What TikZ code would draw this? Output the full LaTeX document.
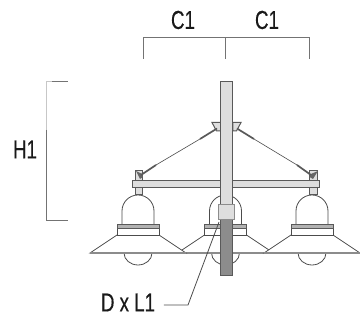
\documentclass[tikz,border=0pt]{standalone}
\usepackage{fontspec}
\setmainfont[FakeStretch=0.72,FakeBold=0.4]{Liberation Sans}
\tikzset{
 px/.style={x=1pt,y=-1pt},
 dim/.style={draw=black!55,line width=0.8pt},
 dimlight/.style={draw=black!22,line width=0.8pt},
 lbl/.style={font=\fontsize{26}{26}\selectfont,text=black!90,inner sep=0pt},
 part/.style={draw=black!65,fill=black!13,line width=1pt},
 thinline/.style={draw=black!70,line width=0.8pt},
 lampfill/.style={draw=black!70,fill=white,line width=0.8pt},
 band/.style={draw=black!65,fill=black!30,line width=0.7pt},
 rim/.style={draw=black!45,line width=1.6pt},
 cable/.style={draw=black!70,line width=0.6pt},
 cablethick/.style={draw=black!65,line width=1.7pt},
}
\newcommand{\lamp}[1]{%
  \begin{scope}[shift={(#1,0)}]
    \draw[thinline] (-14,253) arc[start angle=180,end angle=0,x radius=14,y radius=12];
    \draw[lampfill] (-48,253) -- (-21,235) -- (21,235) -- (48,253) -- cycle;
    \draw[rim] (-48,253) -- (48,253);
    \draw[lampfill] (-16,225) -- (-16,211) arc[start angle=180,end angle=360,x radius=16,y radius=16] -- (16,225) -- cycle;
    \draw[lampfill] (-21,225) rectangle (21,235);
    \draw[band] (-21,224.5) rectangle (21,228);
  \end{scope}}
\begin{document}
\begin{tikzpicture}[px]
\useasboundingbox (0,0) rectangle (360,320);
% lamps: the middle one lies behind the outer two
\lamp{225.5}
\lamp{138}
\lamp{312}
% stems
\draw[part] (136,171) rectangle (143,195);
\draw[part] (309.5,171) rectangle (317.5,195);
% cross bars
\draw[part] (132.5,181) rectangle (223,187.5);
\draw[part] (229.5,181) rectangle (320,187.5);
% upper brackets
\draw[part] (212,122.5) -- (221,122.5) -- (221,131) -- (216.5,131) -- cycle;
\draw[part] (241,122.5) -- (233,122.5) -- (233,131) -- (236.5,131) -- cycle;
% pole
\draw[part] (221,82) rectangle (233,206);
\draw[draw=black!65,fill=black!45,line width=1pt] (221,220) rectangle (233,276);
\draw[draw=black!45,fill=black!13,line width=1pt] (219,205) rectangle (234.5,220);
% lower bracket corners
\fill[black!60] (136,171) -- (142,174) -- (143,177) -- (140,179) -- cycle;
\fill[black!60] (318,171) -- (311,174) -- (309.5,177) -- (313,179) -- cycle;
% cables
\coordinate (la) at (217,128.5); \coordinate (lam) at (200,139);
\coordinate (lbm) at (156,165);  \coordinate (lb) at (141,175);
\coordinate (ra) at (237,128.5); \coordinate (ram) at (254,139);
\coordinate (rbm) at (297,165);  \coordinate (rb) at (311,175);
\draw[cablethick] (la) -- (lam);
\draw[cable] (lam) -- (lbm);
\draw[cablethick] (lbm) -- (lb);
\draw[cablethick] (ra) -- (ram);
\draw[cable] (ram) -- (rbm);
\draw[cablethick] (rbm) -- (rb);
% dimensions
\coordinate (c0) at (143,59); \coordinate (c0t) at (143,37.5);
\coordinate (c1) at (225.5,59); \coordinate (c1t) at (225.5,37.5);
\coordinate (c2) at (309,59); \coordinate (c2t) at (309,37.5);
\draw[dim] (c0) -- (c0t) -- (c2t) -- (c2);
\draw[dim] (c1t) -- (c1);
\node[lbl] (cl) at (183,20) {C1};
\node[lbl] (cr) at (267,20) {C1};
\coordinate (ha) at (68,81.5); \coordinate (hb) at (46,81.5);
\coordinate (hm) at (46,130);
\coordinate (hc) at (46,220.5); \coordinate (hd) at (68,220.5);
\draw[dim] (ha) -- (52,81.5);
\draw[dimlight] (52,81.5) -- (hb) -- (hm);
\draw[dim] (hm) -- (hc) -- (hd);
\node[lbl] (h) at (25,149.5) {H1};
\node[lbl] (d) at (128,302.5) {D x L1};
\coordinate (ds) at (164,305); \coordinate (dk) at (188,305); \coordinate (dt) at (219,222);
\draw[draw=black!70,line width=0.8pt] (ds) -- (dk) -- (dt);
\end{tikzpicture}
\end{document}
